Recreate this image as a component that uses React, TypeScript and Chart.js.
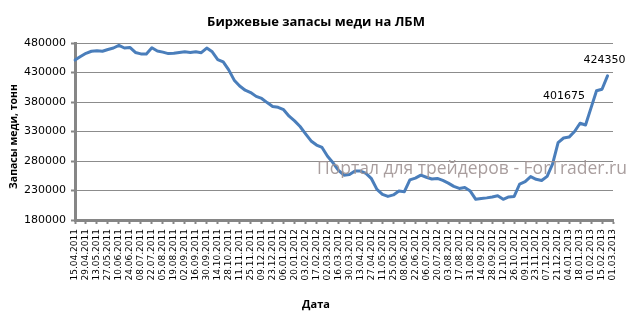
import React, { useEffect, useRef } from "react";
import { Chart, registerables } from "chart.js";

Chart.register(...registerables);

const tickDates = [
  "15.04.2011", "29.04.2011", "13.05.2011", "27.05.2011", "10.06.2011", "24.06.2011", "08.07.2011",
  "22.07.2011", "05.08.2011", "19.08.2011", "02.09.2011", "16.09.2011", "30.09.2011", "14.10.2011",
  "28.10.2011", "11.11.2011", "25.11.2011", "09.12.2011", "23.12.2011", "06.01.2012", "20.01.2012",
  "03.02.2012", "17.02.2012", "02.03.2012", "16.03.2012", "30.03.2012", "13.04.2012", "27.04.2012",
  "11.05.2012", "25.05.2012", "08.06.2012", "22.06.2012", "06.07.2012", "20.07.2012", "03.08.2012",
  "17.08.2012", "31.08.2012", "14.09.2012", "28.09.2012", "12.10.2012", "26.10.2012", "09.11.2012",
  "23.11.2012", "07.12.2012", "21.12.2012", "04.01.2013", "18.01.2013", "01.02.2013", "15.02.2013",
  "01.03.2013",
];

// weekly observations (one unlabeled week between every two labeled dates)
const stocks: (number | null)[] = [
  451000, 457000, 462500, 466000, 467000, 466000, 469000, 471500, 476000, 471500,
  472500, 464000, 461500, 461500, 472000, 466500, 464500, 462000, 462500, 464000,
  465000, 464000, 465000, 463500, 471500, 465000, 452000, 448000, 434500, 417000,
  407000, 400000, 396000, 389500, 386000, 379000, 372500, 371000, 367000, 356000,
  348000, 338500, 326000, 314000, 307000, 303000, 288000, 277000, 264000, 256000,
  257000, 263000, 263000, 259000, 250000, 232000, 223500, 220000, 222500, 229000,
  228000, 248000, 251000, 256000, 252500, 249500, 250500, 247000, 242500, 237000,
  233500, 235000, 229000, 215000, 216500, 217500, 219000, 221000, 215000, 219000,
  220000, 241000, 245000, 253500, 249000, 247000, 254000, 275000, 311000, 319000,
  320500, 330000, 344000, 341000, 370000, 399000, 401675, 424350, null,
];

const labeledPoints = [96, 97];

const yMin = 180000;
const yMax = 480000;
const yStep = 50000;

const chartTitle = "Биржевые запасы меди на ЛБМ";
const yTitle = "Запасы меди, тонн";
const xTitle = "Дата";
const watermark = "Портал для трейдеров - ForTrader.ru";

const categories: string[] = [];
tickDates.forEach((d, i) => {
  categories.push(d);
  if (i < tickDates.length - 1) categories.push("");
});

const overlayPlugin = {
  id: "overlay",
  afterDraw(chart: any) {
    const ctx = chart.ctx;
    const area = chart.chartArea;
    ctx.save();
    // title
    ctx.fillStyle = "#000";
    ctx.textAlign = "center";
    ctx.textBaseline = "middle";
    ctx.font = "bold 13px 'Open Sans'";
    ctx.fillText(chartTitle, chart.width / 2, 22);
    // x title
    ctx.font = "bold 11px 'Open Sans'";
    ctx.fillText(xTitle, chart.width / 2, 305);
    // y title
    ctx.save();
    ctx.translate(14, (area.top + area.bottom) / 2 + 5);
    ctx.rotate(-Math.PI / 2);
    ctx.font = "bold 10.5px 'Open Sans'";
    ctx.fillText(yTitle, 0, 0);
    ctx.restore();
    // data labels
    const meta = chart.getDatasetMeta(0);
    ctx.font = "11px 'DejaVu Sans'";
    ctx.fillStyle = "#000";
    labeledPoints.forEach((idx, k) => {
      const pt = meta.data[idx];
      const v = stocks[idx];
      if (!pt || v == null) return;
      if (k === 0) {
        ctx.textAlign = "right";
        ctx.fillText(String(v), pt.x - 17, pt.y + 7);
      } else {
        ctx.textAlign = "center";
        ctx.fillText(String(v), pt.x - 3, pt.y - 16);
      }
    });
    // watermark
    ctx.font = "17.5px 'Open Sans'";
    ctx.fillStyle = "rgba(160,148,148,0.9)";
    ctx.textAlign = "left";
    ctx.fillText(watermark, 317, 169);
    ctx.restore();
  },
};

export default function App() {
  const ref = useRef<HTMLCanvasElement | null>(null);
  useEffect(() => {
    document.body.style.margin = "0";
    if (!ref.current) return;
    const chart = new Chart(ref.current, {
      type: "line",
      data: {
        labels: categories,
        datasets: [
          {
            data: stocks,
            borderColor: "#4a7ebb",
            borderWidth: 3,
            pointRadius: 0,
            tension: 0,
            borderJoinStyle: "round",
            borderCapStyle: "round",
            fill: false,
          },
        ],
      },
      options: {
        responsive: false,
        animation: false,
        devicePixelRatio: 1,
        layout: { padding: { top: 43, right: 19, left: 0, bottom: 0 } },
        plugins: {
          legend: { display: false },
          title: { display: false },
          tooltip: { enabled: false },
        },
        scales: {
          x: {
            type: "category",
            offset: false,
            afterFit(scale: any) {
              scale.height = 98;
            },
            grid: {
              drawOnChartArea: false,
              drawTicks: true,
              tickLength: 4,
              tickColor: "#868686",
              tickWidth: 2,
            },
            border: { display: true, color: "#868686", width: 3 },
            ticks: {
              autoSkip: false,
              maxRotation: 90,
              minRotation: 90,
              padding: 5,
              color: "#000",
              font: { family: "'DejaVu Sans'", size: 9 },
              callback: function (this: any, _v: any, i: number) {
                const l = categories[i];
                return l ? l : null;
              },
            },
          },
          y: {
            min: yMin,
            max: yMax,
            afterFit(scale: any) {
              scale.width = 75;
            },
            grid: {
              color: "#8c8c8c",
              lineWidth: 1,
              tickLength: 4,
              tickColor: "#868686",
              tickWidth: 2,
            },
            border: { display: true, color: "#868686", width: 3 },
            ticks: {
              stepSize: yStep,
              padding: 5,
              color: "#000",
              font: { family: "'DejaVu Sans'", size: 11 },
              callback: (v: any) => String(v),
            },
          },
        },
      },
      plugins: [overlayPlugin],
    });
    return () => chart.destroy();
  }, []);
  return <canvas ref={ref} width={632} height={318} style={{ display: "block" }} />;
}
